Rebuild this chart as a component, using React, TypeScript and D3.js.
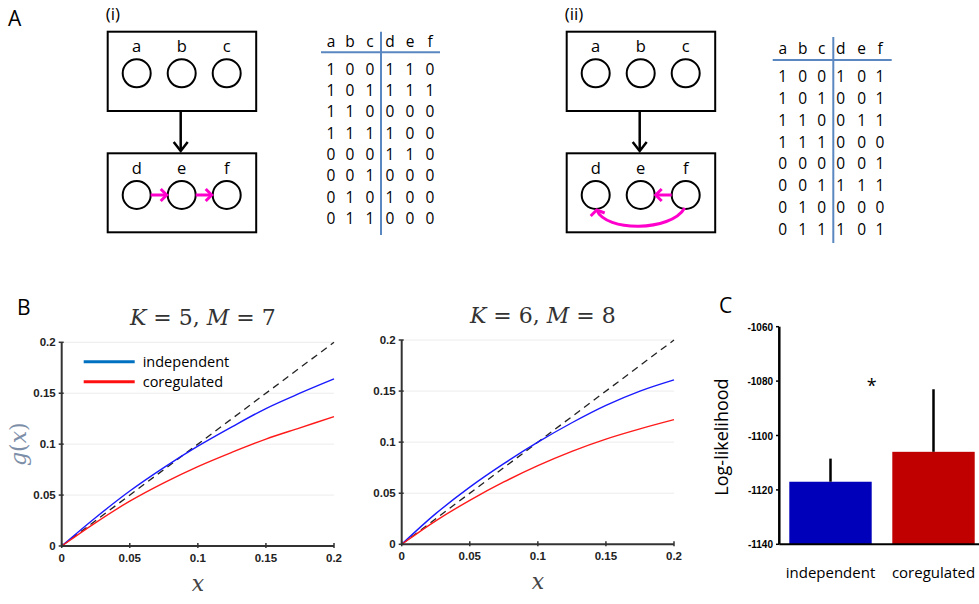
import React from 'react';
import * as d3 from 'd3';

// panel A truth tables: columns a b c | d e f
const tableCols = ['a', 'b', 'c', 'd', 'e', 'f'];
const tableI = ['100110', '101111', '110000', '111100', '000110', '001000', '010100', '011000'];
const tableII = ['100101', '101001', '110011', '111000', '000001', '001111', '010000', '011101'];

// panel B: g(x) sampled at these x
const xs = [0, 0.025, 0.05, 0.075, 0.1, 0.125, 0.15, 0.175, 0.2];
const indepK5 = [0, 0.028, 0.054, 0.077, 0.098, 0.117, 0.135, 0.150, 0.164];
const coregK5 = [0, 0.023, 0.044, 0.062, 0.078, 0.092, 0.105, 0.116, 0.127];
const indepK6 = [0, 0.030, 0.056, 0.079, 0.100, 0.119, 0.136, 0.150, 0.161];
const coregK6 = [0, 0.023, 0.043, 0.061, 0.077, 0.091, 0.103, 0.113, 0.122];
const diag = [0, 0.2];
const bTicks = [0, 0.05, 0.1, 0.15, 0.2];

// panel C
const models = ['independent', 'coregulated'];
const logLik = [-1117, -1106];
const logLikErr = [8.5, 23];
const cTicks = [-1140, -1120, -1100, -1080, -1060];

const MAG = '#f0c';
const sans = '"Liberation Sans", Arial, sans-serif';
const ui = '"Open Sans", "Liberation Sans", sans-serif';
const serif = '"DejaVu Serif", "Liberation Serif", serif';

const Network = ({ x0, label, variant }) => {
  const cx = [29, 74, 119].map(d => x0 + d);
  const w = 148.5;
  return (
    <g>
      <text x={x0 - 2} y={20} fontFamily={ui} fontSize={17}>{label}</text>
      <rect x={x0} y={31.7} width={w} height={79.3} fill="none" stroke="#000" strokeWidth={2} />
      <rect x={x0} y={153.3} width={w} height={79} fill="none" stroke="#000" strokeWidth={2} />
      {['a', 'b', 'c'].map((t, i) => (
        <g key={t}>
          <text x={cx[i]} y={52} textAnchor="middle" fontFamily={ui} fontSize={16.5}>{t}</text>
          <circle cx={cx[i]} cy={73.3} r={14} fill="none" stroke="#000" strokeWidth={2} />
        </g>
      ))}
      {['d', 'e', 'f'].map((t, i) => (
        <g key={t}>
          <text x={cx[i]} y={174} textAnchor="middle" fontFamily={ui} fontSize={16.5}>{t}</text>
          <circle cx={cx[i]} cy={195} r={14} fill="none" stroke="#000" strokeWidth={2} />
        </g>
      ))}
      <line x1={cx[1]-1} y1={111} x2={cx[1]-1} y2={151} stroke="#000" strokeWidth={2.5} />
      <path d={`M${cx[1]-8},${142} L${cx[1]-1},${151} L${cx[1]+6},${142}`} fill="none" stroke="#000" strokeWidth={2.5} />
      {variant === 1 ? (
        <g stroke={MAG} strokeWidth={3} fill="none">
          <line x1={cx[0] + 14} y1={195} x2={cx[1] - 15} y2={195} />
          <path d={`M${cx[1]-21},${189} L${cx[1]-15},${195} L${cx[1]-21},${201}`} />
          <line x1={cx[1] + 14} y1={195} x2={cx[2] - 15} y2={195} />
          <path d={`M${cx[2]-21},${189} L${cx[2]-15},${195} L${cx[2]-21},${201}`} />
        </g>
      ) : (
        <g stroke={MAG} strokeWidth={3} fill="none">
          <line x1={cx[2] - 14} y1={195} x2={cx[1] + 15} y2={195} />
          <path d={`M${cx[1]+21},${189} L${cx[1]+15},${195} L${cx[1]+21},${201}`} />
          <path d={`M${cx[2]-1},${208} C${cx[2]-15},${232} ${cx[0]+10},${232} ${cx[0]+1},${210}`} />
          <path d={`M${cx[0]-5},${216} L${cx[0]+1},${210} L${cx[0]+9},${213}`} />
        </g>
      )}
    </g>
  );
};

const Table = ({ rows, colX, headY, lineY, vx, vTop, vBot, hx0, hx1, row0, rowStep }) => (
  <g fontFamily={ui} fontSize={15.5}>
    {tableCols.map((c, i) => (
      <text key={c} x={colX[i]} y={headY} textAnchor="middle">{c}</text>
    ))}
    <line x1={hx0} y1={lineY} x2={hx1} y2={lineY} stroke="#5b87c0" strokeWidth={2} />
    <line x1={vx} y1={vTop} x2={vx} y2={vBot} stroke="#5b87c0" strokeWidth={2} />
    {rows.map((r, j) => r.split('').map((v, i) => (
      <text key={j + '-' + i} x={colX[i]} y={row0 + j * rowStep + 5.5} textAnchor="middle">{v}</text>
    )))}
  </g>
);

const GPanel = ({ x0, x1, y0, y1, title, indep, coreg, showLegend, showYLabel }) => {
  const x = d3.scaleLinear().domain([0, 0.2]).range([x0, x1]);
  const y = d3.scaleLinear().domain([0, 0.2]).range([y0, y1]);
  const line = d3.line().x(d => x(d[0])).y(d => y(d[1])).curve(d3.curveCatmullRom);
  const pts = vals => xs.map((v, i) => [v, vals[i]]);
  return (
    <g>
      {bTicks.slice(1).map(t => (
        <line key={t} x1={x0} x2={x1} y1={y(t)} y2={y(t)} stroke="#ececec" strokeWidth={1} />
      ))}
      <path d={line(diag.map(v => [v, v]))} stroke="#222" strokeWidth={1.3} strokeDasharray="7,5" fill="none" />
      <path d={line(pts(indep))} stroke="#1a1aff" strokeWidth={1.4} fill="none" />
      <path d={line(pts(coreg))} stroke="#ff1a1a" strokeWidth={1.4} fill="none" />
      <line x1={x0} x2={x1} y1={y0} y2={y0} stroke="#333" strokeWidth={2} />
      <line x1={x0} x2={x0} y1={y0} y2={y1} stroke="#333" strokeWidth={2} />
      {bTicks.map(t => (
        <g key={t} fontFamily={sans} fontSize={11.5} fontWeight="bold" fill="#222">
          <line x1={x(t)} x2={x(t)} y1={y0 - 3} y2={y0 + 2} stroke="#333" strokeWidth={1.5} />
          <text x={x(t)} y={y0 + 16} textAnchor="middle">{t}</text>
          <line x1={x0 - 3} x2={x0 + 2} y1={y(t)} y2={y(t)} stroke="#333" strokeWidth={1.5} />
          <text x={x0 - 6} y={y(t) + 4} textAnchor="end">{t}</text>
        </g>
      ))}
      <text x={(x0 + x1) / 2 + 5} y={y1 - 17} textAnchor="middle" fontFamily={serif} fontSize={22} fill="#333">
        <tspan fontStyle="italic">K</tspan> = {title[0]}, <tspan fontStyle="italic">M</tspan> = {title[1]}
      </text>
      <text x={(x0 + x1) / 2} y={y0 + 45} textAnchor="middle" fontFamily={serif} fontStyle="italic" fontSize={22} fill="#444">x</text>
      {showYLabel && (
        <text transform={`translate(${x0 - 36},${(y0 + y1) / 2}) rotate(-90)`} textAnchor="middle" fontFamily={serif} fontSize={22} fill="#7d8ea8">
          <tspan fontStyle="italic">g</tspan>(<tspan fontStyle="italic">x</tspan>)
        </text>
      )}
      {showLegend && (
        <g fontFamily={ui} fontSize={14.5}>
          <line x1={x0 + 22} x2={x0 + 73} y1={y1 + 19.5} y2={y1 + 19.5} stroke="#0070c0" strokeWidth={3} />
          <text x={x0 + 81} y={y1 + 24.5}>independent</text>
          <line x1={x0 + 22} x2={x0 + 73} y1={y1 + 39.5} y2={y1 + 39.5} stroke="#ff1010" strokeWidth={3} />
          <text x={x0 + 81} y={y1 + 44.5}>coregulated</text>
        </g>
      )}
    </g>
  );
};

const BarPanel = () => {
  const y = d3.scaleLinear().domain([-1140, -1060]).range([544.3, 326.7]);
  const x = d3.scaleBand().domain(models).range([779, 985]).paddingInner(0.2).paddingOuter(0.1);
  const colors = ['#0000bb', '#c00000'];
  return (
    <g>
      <text x={719} y={313} fontFamily={ui} fontSize={21}>C</text>
      {models.map((m, i) => (
        <g key={m}>
          <rect x={x(m)} y={y(logLik[i])} width={x.bandwidth()} height={y(-1140) - y(logLik[i])} fill={colors[i]} />
          <line x1={x(m) + x.bandwidth() / 2} x2={x(m) + x.bandwidth() / 2} y1={y(logLik[i])} y2={y(logLik[i] + logLikErr[i])} stroke="#000" strokeWidth={2.5} />
          <text x={x(m) + x.bandwidth() / 2} y={578} textAnchor="middle" fontFamily={ui} fontSize={15}>{m}</text>
        </g>
      ))}
      <line x1={779.3} x2={979} y1={544.3} y2={544.3} stroke="#000" strokeWidth={2} />
      <line x1={779.3} x2={779.3} y1={544.3} y2={326.7} stroke="#000" strokeWidth={2.5} />
      {cTicks.map(t => (
        <g key={t}>
          <line x1={776} x2={779} y1={y(t)} y2={y(t)} stroke="#000" strokeWidth={1.5} />
          <text x={773} y={y(t) + 4} textAnchor="end" fontFamily={sans} fontSize={10} fontWeight="bold">{t}</text>
        </g>
      ))}
      <text transform={`translate(728,437) rotate(-90)`} textAnchor="middle" fontFamily={ui} fontSize={18}>Log-likelihood</text>
      <text x={x(models[0]) + x.bandwidth()} y={392} textAnchor="middle" fontFamily={ui} fontSize={18}>*</text>
    </g>
  );
};

export default function App() {
  return (
    <svg width={979} height={604} style={{ position: 'absolute', left: 0, top: 0, background: '#fff' }}>
      <text x={8} y={26} fontFamily={ui} fontSize={21}>A</text>
      <Network x0={107.7} label="(i)" variant={1} />
      <Network x0={566.7} label="(ii)" variant={2} />
      <Table rows={tableI} colX={[331, 350, 370, 390, 410, 430]} headY={47} lineY={52.3}
        vx={381} vTop={31.7} vBot={235} hx0={321} hx1={440} row0={69.3} rowStep={21.3} />
      <Table rows={tableII} colX={[782.7, 802.7, 821.7, 840.7, 861.7, 880]} headY={54} lineY={60}
        vx={833.3} vTop={37} vBot={243} hx0={772.7} hx1={891.7} row0={76.7} rowStep={21.8} />
      <text x={17} y={315} fontFamily={ui} fontSize={21}>B</text>
      <GPanel x0={61.7} x1={334} y0={546} y1={342.3} title={[5, 7]} indep={indepK5} coreg={coregK5} showLegend showYLabel />
      <GPanel x0={401.7} x1={674} y0={544.3} y1={340} title={[6, 8]} indep={indepK6} coreg={coregK6} />
      <BarPanel />
    </svg>
  );
}
